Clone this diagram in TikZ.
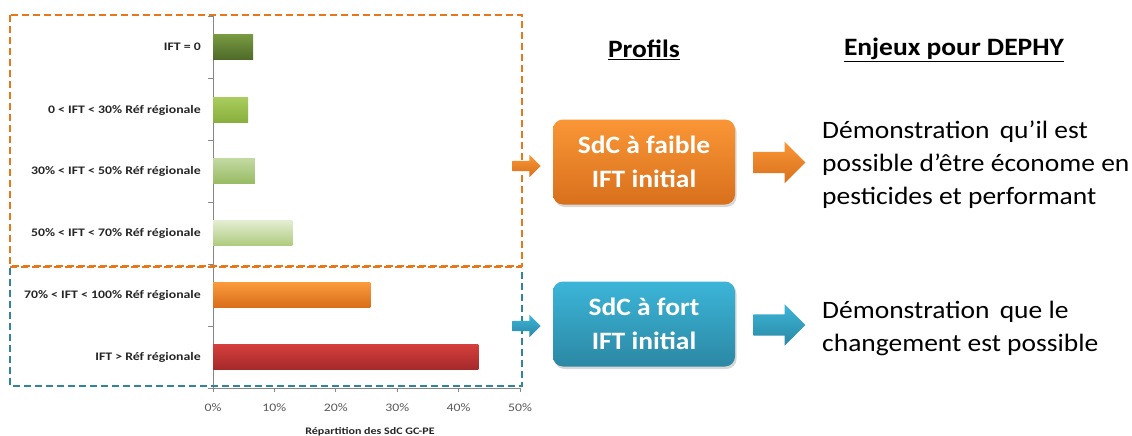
\documentclass[tikz,border=0pt]{standalone}
\usepackage{fontspec}
\setmainfont{Carlito}[FakeStretch=1.1]
\newfontfamily\chartfont{Carlito}[FakeStretch=1.2]
\usetikzlibrary{shapes.arrows,shadows}
\definecolor{dorange}{HTML}{E8761A}
\definecolor{dblue}{HTML}{31849B}
\definecolor{axisgray}{HTML}{868686}
\definecolor{ticktext}{HTML}{595959}
\definecolor{ga1}{HTML}{779A42}\definecolor{ga2}{HTML}{4F6A28}
\definecolor{gb1}{HTML}{A9CD5C}\definecolor{gb2}{HTML}{88AE3E}
\definecolor{gc1}{HTML}{C3D9A2}\definecolor{gc2}{HTML}{98BB63}
\definecolor{gd1}{HTML}{E4EDD2}\definecolor{gd2}{HTML}{AECB7E}
\definecolor{or1}{HTML}{FB9A3C}\definecolor{or2}{HTML}{D86E1A}
\definecolor{rd1}{HTML}{D43F3D}\definecolor{rd2}{HTML}{A5292A}
\definecolor{pb1}{HTML}{FA9636}\definecolor{pb2}{HTML}{D8701C}
\definecolor{bl1}{HTML}{3CB5D8}\definecolor{bl2}{HTML}{2B88A4}
\begin{document}
\begin{tikzpicture}[x=1pt,y=-1pt,
  cat/.style={anchor=east,font=\chartfont\fontsize{11.5}{13}\selectfont\bfseries,text=black!85,inner sep=0pt},
  bar/.style={anchor=west,minimum height=25pt,inner sep=0pt,draw=none},
  ticklab/.style={font=\chartfont\fontsize{11.5}{13}\selectfont,text=ticktext,inner sep=0pt},
  head/.style={font=\fontsize{25}{28}\selectfont\bfseries,inner sep=0pt},
  prof/.style={rounded corners=10pt,minimum width=182pt,minimum height=85pt,align=center,
    text=white,font=\fontsize{25}{34}\selectfont\bfseries,
    drop shadow={opacity=0.3,shadow xshift=1.5pt,shadow yshift=-2.5pt}},
  enj/.style={anchor=west,align=left,font=\fontsize{25}{33}\selectfont,inner sep=0pt},
  smallarrow/.style={single arrow,minimum height=28pt,inner xsep=0pt,inner ysep=5pt,
    single arrow head extend=6pt},
  bigarrow/.style={single arrow,minimum height=52pt,inner xsep=0pt,inner ysep=10.5pt,
    single arrow head extend=10pt}
]
\useasboundingbox[fill=white] (0,0) rectangle (1132,436);

% axis
\draw[axisgray,line width=0.8pt] (213,16) coordinate (ytop) -- (213,388) coordinate (ybot);
\foreach \y in {16,78,140,202,264,326,388} \draw[axisgray,line width=0.8pt] (208,\y) -- (213,\y);
\draw[axisgray,line width=0.8pt] (ybot) -- (520,388);
\foreach \x in {213,274.4,335.8,397.2,458.6,520} \draw[axisgray,line width=0.8pt] (\x,388) -- (\x,392);

% bars
\node[bar,minimum width=39.9pt,top color=ga1,bottom color=ga2] (b1) at (213,47) {};
\node[bar,minimum width=35pt,top color=gb1,bottom color=gb2] (b2) at (213,110) {};
\node[bar,minimum width=41.7pt,top color=gc1,bottom color=gc2] (b3) at (213,171) {};
\node[bar,minimum width=79.2pt,top color=gd1,bottom color=gd2] (b4) at (213,233) {};
\node[bar,minimum width=157.2pt,top color=or1,bottom color=or2] (b5) at (213,295) {};
\node[bar,minimum width=265.2pt,top color=rd1,bottom color=rd2] (b6) at (213,357) {};

% category labels
\node[cat] (l1) at (201,47) {IFT = 0};
\node[cat] (l2) at (201,110) {0 < IFT < 30\% Réf régionale};
\node[cat] (l3) at (201,171) {30\% < IFT < 50\% Réf régionale};
\node[cat] (l4) at (201,233) {50\% < IFT < 70\% Réf régionale};
\node[cat] (l5) at (201,295) {70\% < IFT < 100\% Réf régionale};
\node[cat] (l6) at (201,357) {IFT > Réf régionale};

% tick labels
\node[ticklab] (t0) at (213,408) {0\%};
\node[ticklab] (t1) at (274.4,408) {10\%};
\node[ticklab] (t2) at (335.8,408) {20\%};
\node[ticklab] (t3) at (397.2,408) {30\%};
\node[ticklab] (t4) at (458.6,408) {40\%};
\node[ticklab] (t5) at (520,408) {50\%};
\node[ticklab,font=\chartfont\fontsize{10}{11}\selectfont\bfseries,text=black!85] (xt) at (370,432) {Répartition des SdC GC-PE};

% dashed boxes
\draw[dorange,line width=2pt,dash pattern=on 7pt off 4pt] (10,15) rectangle (522,266);
\draw[dblue,line width=2pt,dash pattern=on 7pt off 4pt] (10,268) -- (10,386) -- (522,386) -- (522,268);
\draw[dorange,line width=2pt,dash pattern=on 7pt off 4pt] (10,267) -- (522,267);

% small arrows
\node[smallarrow,top color=pb1,bottom color=pb2] (sa1) at (524,166) {};
\node[smallarrow,top color=bl1,bottom color=bl2] (sa2) at (524,326) {};

% profile boxes
\node[prof,top color=pb1,bottom color=pb2] (p1) at (644,162) {SdC à faible\\IFT initial};
\node[prof,top color=bl1,bottom color=bl2] (p2) at (644,324) {SdC à fort\\IFT initial};

% headers
\node[head] (h1) at (644,50) {\underline{Profils}};
\node[head] (h2) at (954,50) {\underline{Enjeux pour  DEPHY}};

% big arrows
\node[bigarrow,top color=pb1,bottom color=pb2] (ba1) at (774,162.5) {};
\node[bigarrow,top color=bl1,bottom color=bl2] (ba2) at (774,325) {};

% texts
\node[enj] (e1) at (822,165) {Démonstration\hspace{4pt} qu’il est\\possible d’être économe en\\pesticides et performant};
\node[enj] (e2) at (822,328) {Démonstration\hspace{4pt} que le\\changement est possible};
\end{tikzpicture}
\end{document}
